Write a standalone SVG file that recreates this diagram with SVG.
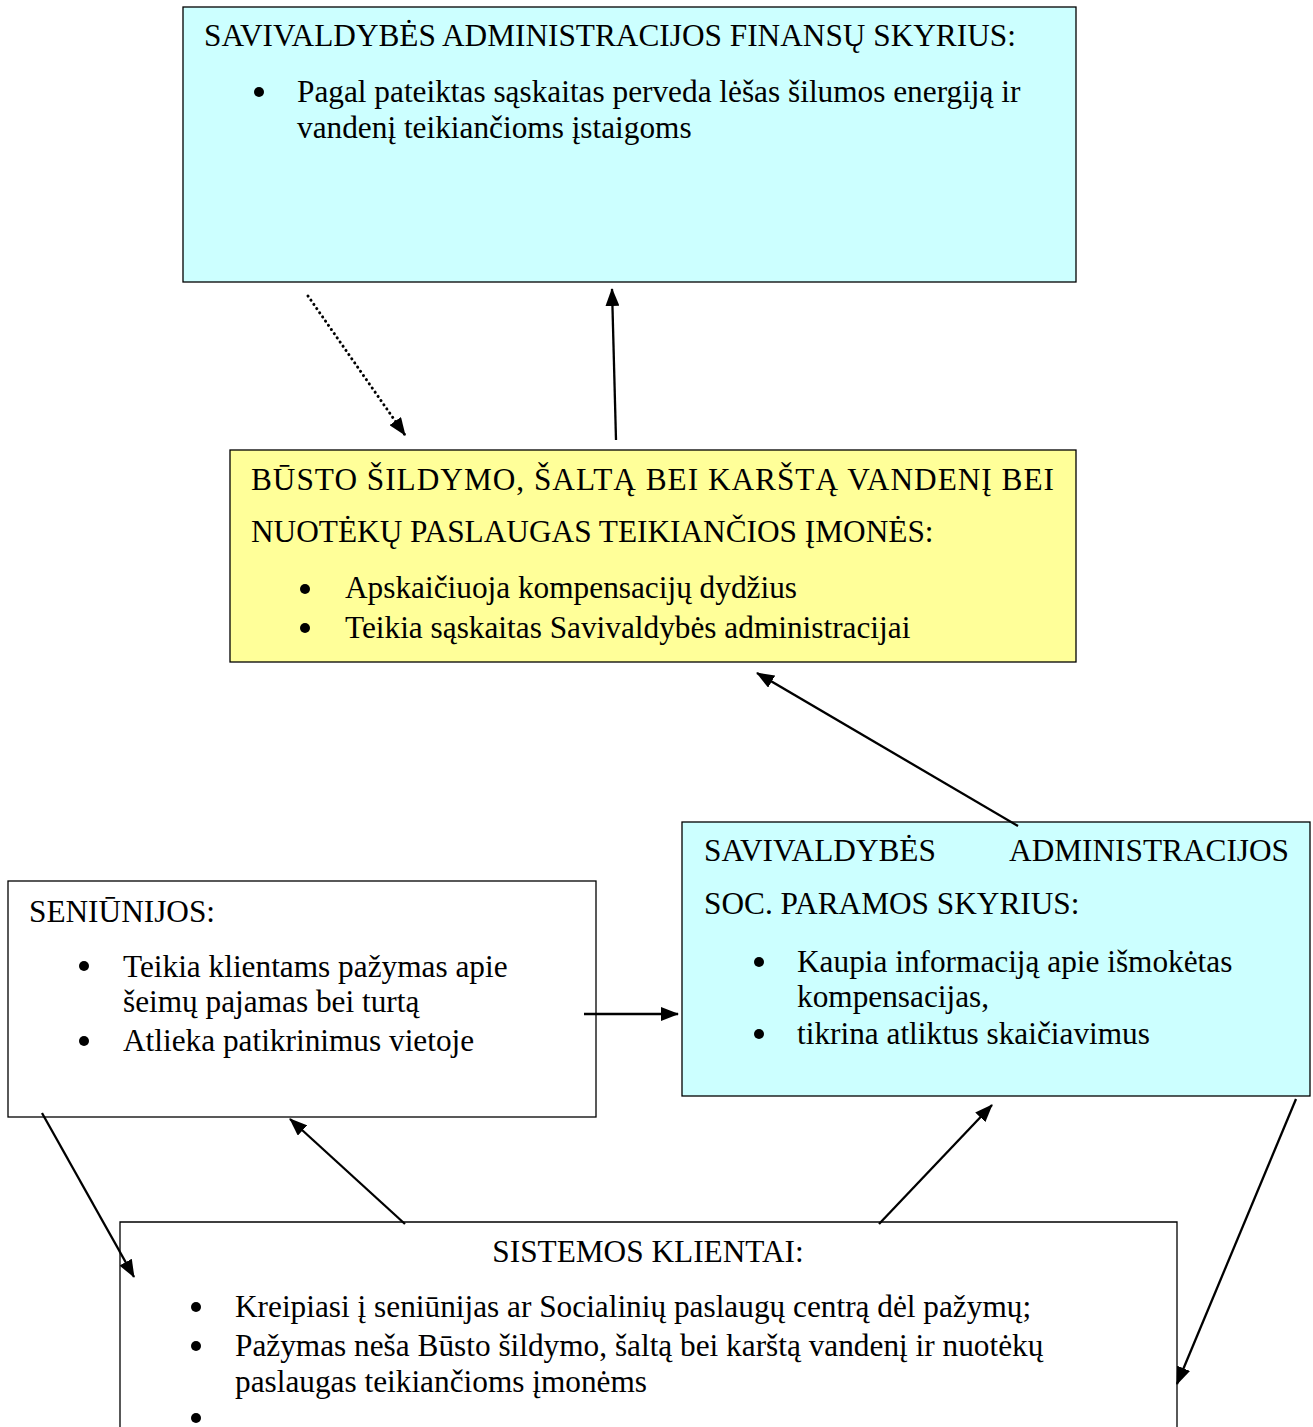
<svg xmlns="http://www.w3.org/2000/svg" width="1313" height="1427" viewBox="0 0 1313 1427">
<style>
text{font-family:"Liberation Serif","Times New Roman",serif;font-size:31.3px;fill:#000}
.box{stroke:#000;stroke-width:1.3}
.cyan{fill:#CCFFFF}
.yellow{fill:#FFFF99}
.white{fill:#fff}
.con{stroke:#000;stroke-width:2.3;fill:none}
.dot{stroke-dasharray:0.1 5;stroke-linecap:round;stroke-width:3}
</style>
<defs>
<marker id="ah" viewBox="0 0 18 14" refX="17" refY="7" markerWidth="18" markerHeight="14" markerUnits="userSpaceOnUse" orient="auto">
<path d="M0,0 L18,7 L0,14 Z" fill="#000"/>
</marker>
</defs>
<rect width="1313" height="1427" fill="#fff"/>
<g id="finansu">
<rect class="box cyan" x="183" y="7" width="893" height="275"/>
<text x="204" y="46">SAVIVALDYBĖS ADMINISTRACIJOS FINANSŲ SKYRIUS:</text>
<circle cx="259" cy="92" r="5"/>
<text x="297" y="102">Pagal pateiktas sąskaitas perveda lėšas šilumos energiją ir</text>
<text x="297" y="138">vandenį teikiančioms įstaigoms</text>
</g>
<g id="imones">
<rect class="box yellow" x="230" y="450" width="846" height="212"/>
<text x="251" y="490" textLength="803" lengthAdjust="spacing">BŪSTO ŠILDYMO, ŠALTĄ BEI KARŠTĄ VANDENĮ BEI</text>
<text x="251" y="542">NUOTĖKŲ PASLAUGAS TEIKIANČIOS ĮMONĖS:</text>
<circle cx="305" cy="589" r="5"/>
<text x="345" y="598">Apskaičiuoja kompensacijų dydžius</text>
<circle cx="305" cy="628" r="5"/>
<text x="345" y="638">Teikia sąskaitas Savivaldybės administracijai</text>
</g>
<g id="seniunijos">
<rect class="box white" x="8" y="881" width="588" height="236"/>
<text x="29" y="922">SENIŪNIJOS:</text>
<circle cx="84" cy="966" r="5"/>
<text x="123" y="977">Teikia klientams pažymas apie</text>
<text x="123" y="1012">šeimų pajamas bei turtą</text>
<circle cx="84" cy="1041" r="5"/>
<text x="123" y="1051">Atlieka patikrinimus vietoje</text>
</g>
<g id="socparama">
<rect class="box cyan" x="682" y="822" width="628" height="274"/>
<text x="704" y="861">SAVIVALDYBĖS</text>
<text x="1289" y="861" text-anchor="end">ADMINISTRACIJOS</text>
<text x="704" y="914">SOC. PARAMOS SKYRIUS:</text>
<circle cx="759" cy="962" r="5"/>
<text x="797" y="972">Kaupia informaciją apie išmokėtas</text>
<text x="797" y="1007">kompensacijas,</text>
<circle cx="759" cy="1034" r="5"/>
<text x="797" y="1044">tikrina atliktus skaičiavimus</text>
</g>
<g id="klientai">
<path class="box white" d="M120,1440 L120,1222 L1177,1222 L1177,1440"/>
<text x="648" y="1262" text-anchor="middle">SISTEMOS KLIENTAI:</text>
<circle cx="196" cy="1307" r="5"/>
<text x="235" y="1317">Kreipiasi į seniūnijas ar Socialinių paslaugų centrą dėl pažymų;</text>
<circle cx="196" cy="1346" r="5"/>
<text x="235" y="1356">Pažymas neša Būsto šildymo, šaltą bei karštą vandenį ir nuotėkų</text>
<text x="235" y="1392">paslaugas teikiančioms įmonėms</text>
<circle cx="196" cy="1418" r="5"/>
</g>
<g id="connectors">
<line class="con dot" x1="308" y1="296" x2="405" y2="435" marker-end="url(#ah)"/>
<line class="con" x1="616" y1="440" x2="612" y2="289" marker-end="url(#ah)"/>
<line class="con" x1="1018" y1="826" x2="757" y2="673" marker-end="url(#ah)"/>
<line class="con" x1="584" y1="1014" x2="678" y2="1014" marker-end="url(#ah)"/>
<line class="con" x1="42" y1="1113" x2="134" y2="1277" marker-end="url(#ah)"/>
<line class="con" x1="405" y1="1224" x2="290" y2="1119" marker-end="url(#ah)"/>
<line class="con" x1="879" y1="1224" x2="992" y2="1105" marker-end="url(#ah)"/>
<line class="con" x1="1296" y1="1099" x2="1177" y2="1384" marker-end="url(#ah)"/>
</g>
</svg>
